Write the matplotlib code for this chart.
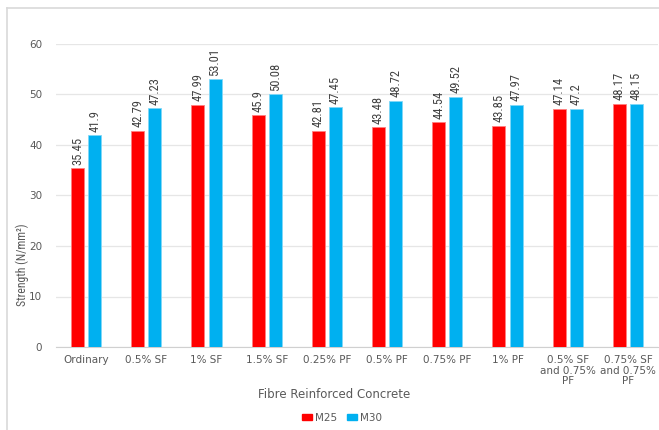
import numpy as np
import matplotlib
matplotlib.use("Agg")
import matplotlib.pyplot as plt
from matplotlib.lines import Line2D
from matplotlib.patches import Patch
from matplotlib import font_manager

categories = ["Ordinary", "0.5% SF", "1% SF", "1.5% SF", "0.25% PF", "0.5% PF",
              "0.75% PF", "1% PF", "0.5% SF\nand 0.75%\nPF", "0.75% SF\nand 0.75%\nPF"]
m25 = [35.45, 42.79, 47.99, 45.9, 42.81, 43.48, 44.54, 43.85, 47.14, 48.17]
m30 = [41.9, 47.23, 53.01, 50.08, 47.45, 48.72, 49.52, 47.97, 47.2, 48.15]
m25_labels = ["35.45", "42.79", "47.99", "45.9", "42.81", "43.48", "44.54", "43.85", "47.14", "48.17"]
m30_labels = ["41.9", "47.23", "53.01", "50.08", "47.45", "48.72", "49.52", "47.97", "47.2", "48.15"]

red = "#FF0000"
blue = "#00B0F0"
grey_text = "#595959"

names = {f.name for f in font_manager.fontManager.ttflist}
condensed = [n for n in ["Liberation Sans Narrow", "DejaVu Sans Condensed", "Roboto Condensed",
                         "Open Sans Condensed"] if n in names]
narrow = condensed + ["DejaVu Sans"]

W, H = 659, 430
fig = plt.figure(figsize=(W / 100, H / 100), dpi=100)
fig.patch.set_facecolor("white")

# outer chart border, cropped on the right and bottom
fig.add_artist(Line2D([7 / W, 7 / W], [0, 1 - 8 / H], transform=fig.transFigure,
                      color="#d9d9d9", linewidth=1.2))
fig.add_artist(Line2D([7 / W, 1], [1 - 8 / H, 1 - 8 / H], transform=fig.transFigure,
                      color="#d9d9d9", linewidth=1.2))

ax = fig.add_axes([56 / W, 1 - 347 / H, (658 - 56) / W, (347 - 44) / H])
x = np.arange(len(categories))
w = 0.215
off = 0.142
b1 = ax.bar(x - off, m25, w, color=red, edgecolor="#ff8080", linewidth=0.6, zorder=3)
b2 = ax.bar(x + off, m30, w, color=blue, edgecolor="#80d8f8", linewidth=0.6, zorder=3)

lab_size = 9 if condensed else 7
for bars, labs in ((b1, m25_labels), (b2, m30_labels)):
    for bar, lab in zip(bars, labs):
        ax.annotate(lab, (bar.get_x() + bar.get_width() / 2, bar.get_height()),
                    xytext=(0, 2.5), textcoords="offset points", rotation=90,
                    ha="center", va="bottom", fontsize=lab_size, color="#404040",
                    family=narrow)

ax.set_xlim(-0.5, len(categories) - 0.5)
ax.set_ylim(0, 60)
ax.set_yticks(range(0, 61, 10))
ax.grid(axis="y", color="#e6e6e6", linewidth=0.9, zorder=0)
ax.set_axisbelow(True)
for s in ["top", "right", "left"]:
    ax.spines[s].set_visible(False)
ax.spines["bottom"].set_color("#d0d0d0")
ax.tick_params(axis="both", length=0, colors=grey_text, labelsize=7.5)
ax.tick_params(axis="y", pad=10)
ax.tick_params(axis="x", pad=6)
ax.set_xticks(x)
ax.set_xticklabels(categories, linespacing=1.05)

fig.text(334 / W, 1 - 394 / H, "Fibre Reinforced Concrete", ha="center", va="center",
         fontsize=8.5, color=grey_text)
fig.text(22 / W, 1 - 265 / H, "Strength (N/mm²)", rotation=90, ha="center", va="center",
         fontsize=8.5 if condensed else 7.5, color=grey_text, family=narrow)

handles = [Patch(color=red, label="M25"), Patch(color=blue, label="M30")]
fig.legend(handles=handles, loc="center", bbox_to_anchor=(342 / W, 1 - 418 / H), ncol=2,
           frameon=False, fontsize=7.5, labelcolor=grey_text, handlelength=0.9,
           handleheight=0.55, handletextpad=0.3, columnspacing=1.0)

fig.savefig("out.png", dpi=100)
